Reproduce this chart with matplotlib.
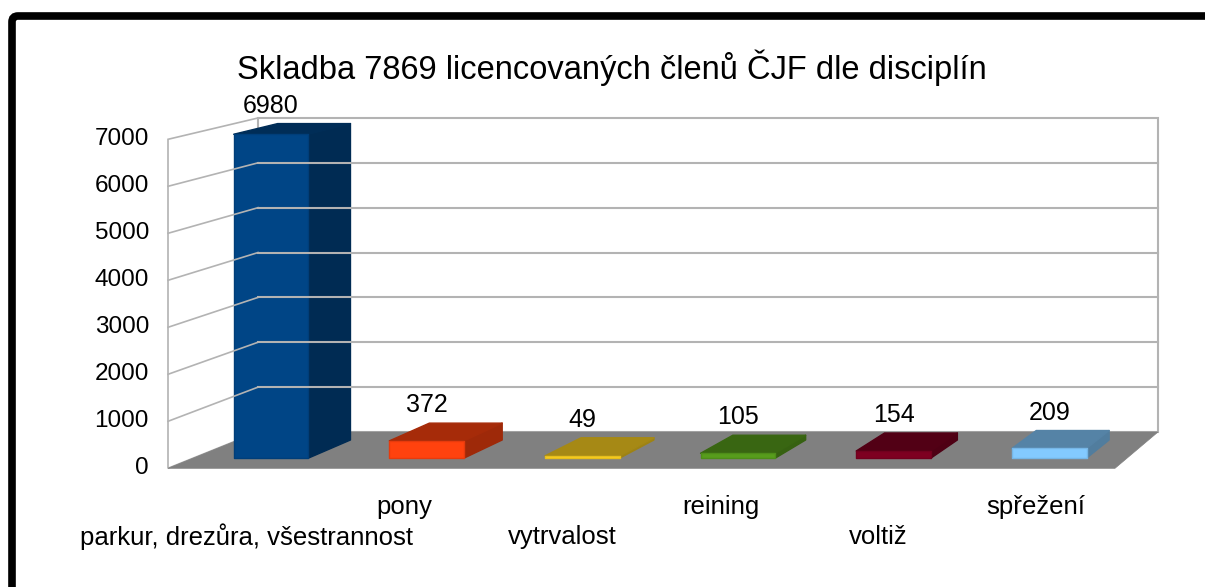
import matplotlib
matplotlib.use('Agg')
import matplotlib.pyplot as plt
from matplotlib.patches import Polygon, FancyBboxPatch
from matplotlib.colors import to_rgb

plt.rcParams['font.family'] = ['Liberation Sans', 'DejaVu Sans']

title = "Skladba 7869 licencovaných členů ČJF dle disciplín"
categories = ["parkur, drezůra, všestrannost", "pony", "vytrvalost",
              "reining", "voltiž", "spřežení"]
values = [6980, 372, 49, 105, 154, 209]
colors = ["#004586", "#ff420e", "#ffd320", "#579d1c", "#7e0021", "#83caff"]
y_ticks = [0, 1000, 2000, 3000, 4000, 5000, 6000, 7000]
y_max = 7000

# pseudo 3d box: front plane and back plane in pixels
front = dict(x0=168, x1=1115, y0=468.3, k=0.0470)
back = dict(x0=258, x1=1158, y0=432.0, k=0.04486)
n = len(categories)


def P(c, v, z):
    # c: category position 0..n, v: value, z: depth 0 (front) .. 1 (back)
    xf = front['x0'] + c * (front['x1'] - front['x0']) / n
    xb = back['x0'] + c * (back['x1'] - back['x0']) / n
    yf = front['y0'] - v * front['k']
    yb = back['y0'] - v * back['k']
    return (xf + z * (xb - xf), yf + z * (yb - yf))


def shade(col, f):
    r, g, b = to_rgb(col)
    return (r * f, g * f, b * f)


fig = plt.figure(figsize=(12.05, 5.87), dpi=100)
ax = fig.add_axes([0, 0, 1, 1])
ax.set_xlim(0, 1205)
ax.set_ylim(587, 0)
ax.axis('off')

# frame (display coords, origin bottom left); runs off the right and bottom edges
fig.patches.append(FancyBboxPatch((12, -100), 1300, 571 + 100,
                                  boxstyle="round,pad=0,rounding_size=6",
                                  transform=None, fill=False, ec='black', lw=5.5))

wall = '#b3b3b3'
# left wall
ax.add_patch(Polygon([P(0, 0, 0), P(0, y_max, 0), P(0, y_max, 1), P(0, 0, 1)],
                     closed=True, fc='white', ec=wall, lw=1.2))
# back wall
ax.add_patch(Polygon([P(0, 0, 1), P(0, y_max, 1), P(n, y_max, 1), P(n, 0, 1)],
                     closed=True, fc='white', ec=wall, lw=1.5))
for t in y_ticks[1:-1]:
    a, b = P(0, t, 0), P(0, t, 1)
    ax.plot([a[0], b[0]], [a[1], b[1]], color=wall, lw=1.2)
    a, b = P(0, t, 1), P(n, t, 1)
    ax.plot([a[0], b[0]], [a[1], b[1]], color=wall, lw=1.5)
# floor
ax.add_patch(Polygon([P(0, 0, 0), P(n, 0, 0), P(n, 0, 1), P(0, 0, 1)],
                     closed=True, fc='#808080', ec='#808080', lw=0.5))

# y tick labels
for t in y_ticks:
    x, y = P(0, t, 0)
    ax.text(x - 19, y, str(t), ha='right', va='center', fontsize=17.5)

# bars
hw = 0.24
z0, z1 = 0.28, 0.78
for i, (v, col) in enumerate(zip(values, colors)):
    xa, xb = i + 0.5 - hw, i + 0.5 + hw
    side = [P(xb, 0, z0), P(xb, 0, z1), P(xb, v, z1), P(xb, v, z0)]
    top = [P(xa, v, z0), P(xb, v, z0), P(xb, v, z1), P(xa, v, z1)]
    face = [P(xa, 0, z0), P(xb, 0, z0), P(xb, v, z0), P(xa, v, z0)]
    ax.add_patch(Polygon(side, closed=True, fc=shade(col, 0.62), ec=shade(col, 0.62),
                         lw=1, joinstyle='round'))
    ax.add_patch(Polygon(top, closed=True, fc=shade(col, 0.65), ec=shade(col, 0.65),
                         lw=1, joinstyle='round'))
    ax.add_patch(Polygon(face, closed=True, fc=col, ec=shade(col, 0.9),
                         lw=1, joinstyle='round'))
    lx = P(i + 0.5, v, z0)[0]
    ly = P(i + 0.5, v, z1)[1]
    ax.text(lx, ly - 6, str(v), ha='center', va='bottom', fontsize=18)

# category labels, staggered
for i, cat in enumerate(categories):
    x = P(i + 0.5, 0, 0)[0]
    y = 537 if i % 2 == 0 else 507
    ax.text(x, y, cat, ha='center', va='center', fontsize=18.5)

ax.text(612, 68, title, ha='center', va='center', fontsize=23.5)

fig.savefig('out.png', dpi=100)
